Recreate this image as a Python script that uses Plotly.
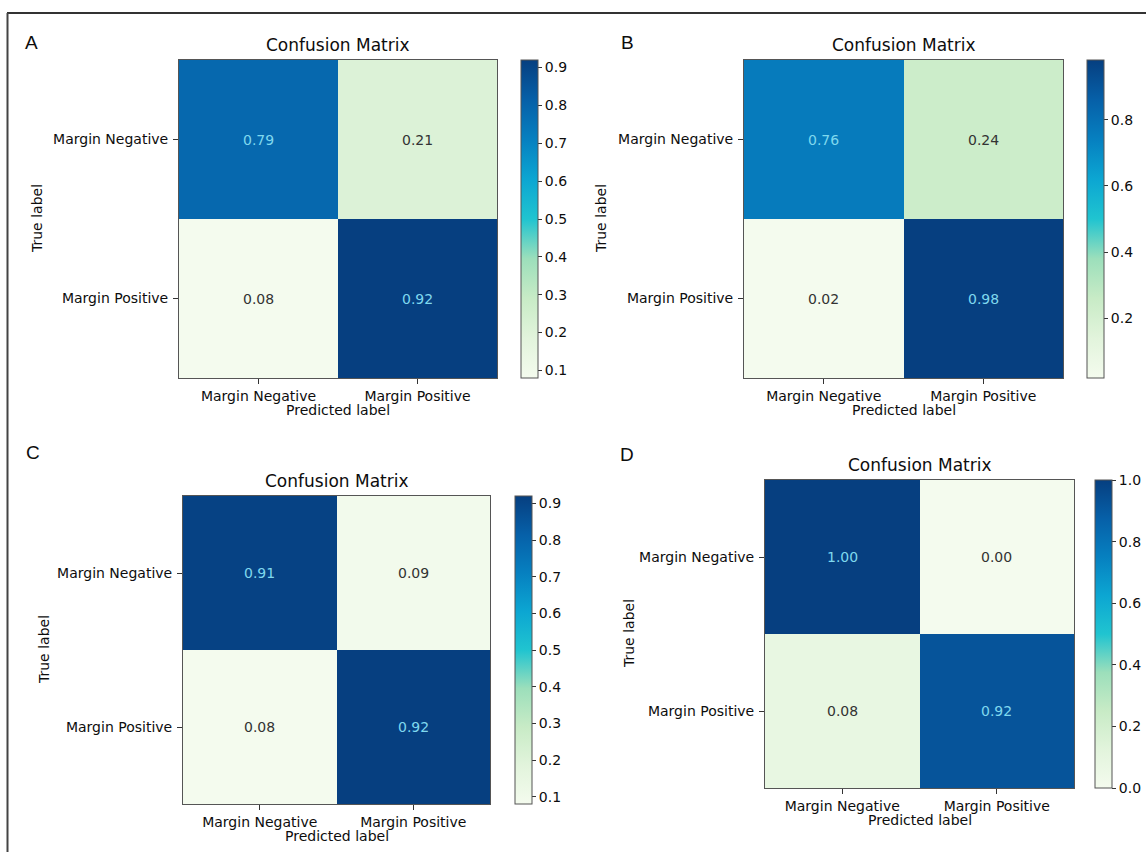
import plotly.graph_objects as go

# ---- data ----
class_labels = ["Margin Negative", "Margin Positive"]
panel_letters = ["A", "B", "C", "D"]
cm_a = [[0.79, 0.21], [0.08, 0.92]]
cm_b = [[0.76, 0.24], [0.02, 0.98]]
cm_c = [[0.91, 0.09], [0.08, 0.92]]
cm_d = [[1.00, 0.00], [0.08, 0.92]]
cbar_ticks_a = [0.1, 0.2, 0.3, 0.4, 0.5, 0.6, 0.7, 0.8, 0.9]
cbar_ticks_b = [0.2, 0.4, 0.6, 0.8]
cbar_ticks_c = [0.1, 0.2, 0.3, 0.4, 0.5, 0.6, 0.7, 0.8, 0.9]
cbar_ticks_d = [0.0, 0.2, 0.4, 0.6, 0.8, 1.0]

# ---- page geometry (pixels) ----
W, H = 1146, 852
# heatmap box (x0, x1, y0, y1), colorbar x0, label x for "True label", letter pos
layout_px = [
    dict(box=(179, 497, 60, 378), cb_x=521, ylab_x=37, letter=(31, 42)),
    dict(box=(744, 1063, 60, 378), cb_x=1087, ylab_x=601, letter=(627, 42)),
    dict(box=(183, 490, 496, 804), cb_x=515, ylab_x=44, letter=(33, 452)),
    dict(box=(765, 1074, 480, 788), cb_x=1095, ylab_x=629, letter=(627, 454)),
]
CB_W = 17

colorscale = [
    [0.0, "#f4fbee"],
    [0.125, "#e2f4dc"],
    [0.25, "#c8ebc6"],
    [0.375, "#9cdfbb"],
    [0.5, "#20c4d0"],
    [0.625, "#0ca6d2"],
    [0.75, "#0680c0"],
    [0.875, "#0660a8"],
    [1.0, "#063f80"],
]

FONT = "DejaVu Sans"
LIGHT_TXT = "#7fd8ee"
DARK_TXT = "#333333"
INK = "#0d0d0d"


def px_x(x):
    return x / W


def px_y(y):
    return 1 - y / H


fig = go.Figure()
annotations = []
matrices = [cm_a, cm_b, cm_c, cm_d]
tick_sets = [cbar_ticks_a, cbar_ticks_b, cbar_ticks_c, cbar_ticks_d]

for i, (cm, ticks, geo, letter) in enumerate(zip(matrices, tick_sets, layout_px, panel_letters)):
    n = i + 1
    xa = "x" if n == 1 else f"x{n}"
    ya = "y" if n == 1 else f"y{n}"
    x0, x1, y0, y1 = geo["box"]
    flat = [v for row in cm for v in row]
    zmin, zmax = min(flat), max(flat)
    thresh = (zmin + zmax) / 2

    fig.add_trace(go.Heatmap(
        z=cm, x=class_labels, y=class_labels,
        zmin=zmin, zmax=zmax, colorscale=colorscale,
        xaxis=xa, yaxis=ya, hoverinfo="skip",
        colorbar=dict(
            x=px_x(geo["cb_x"]), xanchor="left", xpad=0, ypad=0,
            y=px_y((y0 + y1) / 2), yanchor="middle",
            len=(y1 - y0), lenmode="pixels",
            thickness=CB_W, thicknessmode="pixels",
            outlinewidth=1, outlinecolor="#555555",
            tickvals=ticks, ticktext=[f"{t:.1f}" for t in ticks],
            ticks="outside", ticklen=4, tickwidth=1, tickcolor="#333333",
            tickfont=dict(family=FONT, size=14, color=INK),
        ),
    ))

    axis_common = dict(
        showline=True, mirror=True, linecolor="#555555", linewidth=1,
        ticks="outside", ticklen=5, tickwidth=1, tickcolor="#333333",
        tickfont=dict(family=FONT, size=14, color=INK),
        showgrid=False, zeroline=False, fixedrange=True,
    )
    fig.layout[f"xaxis{'' if n == 1 else n}"] = dict(
        domain=[px_x(x0), px_x(x1)], anchor=ya, **axis_common)
    fig.layout[f"yaxis{'' if n == 1 else n}"] = dict(
        domain=[px_y(y1), px_y(y0)], anchor=xa, autorange="reversed",
        ticklabelstandoff=2, **axis_common)

    # cell values
    for r, row_name in enumerate(class_labels):
        for c, col_name in enumerate(class_labels):
            v = cm[r][c]
            annotations.append(dict(
                x=col_name, y=row_name, xref=xa, yref=ya,
                text=f"{v:.2f}", showarrow=False,
                xanchor="center", yanchor="middle",
                font=dict(family=FONT, size=14,
                          color=LIGHT_TXT if v > thresh else DARK_TXT),
            ))

    cx = (x0 + x1) / 2
    # title
    annotations.append(dict(
        x=px_x(cx), y=px_y(y0 - 15), xref="paper", yref="paper",
        text="Confusion Matrix", showarrow=False,
        xanchor="center", yanchor="middle",
        font=dict(family=FONT, size=17, color=INK),
    ))
    # axis titles
    annotations.append(dict(
        x=px_x(cx), y=px_y(y1 + 32), xref="paper", yref="paper",
        text="Predicted label", showarrow=False,
        xanchor="center", yanchor="middle",
        font=dict(family=FONT, size=14, color=INK),
    ))
    annotations.append(dict(
        x=px_x(geo["ylab_x"]), y=px_y((y0 + y1) / 2), xref="paper", yref="paper",
        text="True label", showarrow=False, textangle=-90,
        xanchor="center", yanchor="middle",
        font=dict(family=FONT, size=14, color=INK),
    ))
    # panel letter
    lx, ly = geo["letter"]
    annotations.append(dict(
        x=px_x(lx), y=px_y(ly), xref="paper", yref="paper",
        text=letter, showarrow=False, xanchor="center", yanchor="middle",
        font=dict(family="Liberation Sans", size=19, color=INK),
    ))

# outer frame: top and left rules
shapes = [
    dict(type="line", xref="paper", yref="paper",
         x0=px_x(7), x1=1, y0=px_y(13), y1=px_y(13),
         line=dict(color="#333333", width=2)),
    dict(type="line", xref="paper", yref="paper",
         x0=px_x(7.5), x1=px_x(7.5), y0=px_y(13), y1=0,
         line=dict(color="#444444", width=2)),
]

fig.update_layout(
    width=W, height=H,
    margin=dict(l=0, r=0, t=0, b=0),
    paper_bgcolor="white", plot_bgcolor="white",
    annotations=annotations, shapes=shapes,
    showlegend=False,
    font=dict(family=FONT),
)

fig.write_html("out.html")
